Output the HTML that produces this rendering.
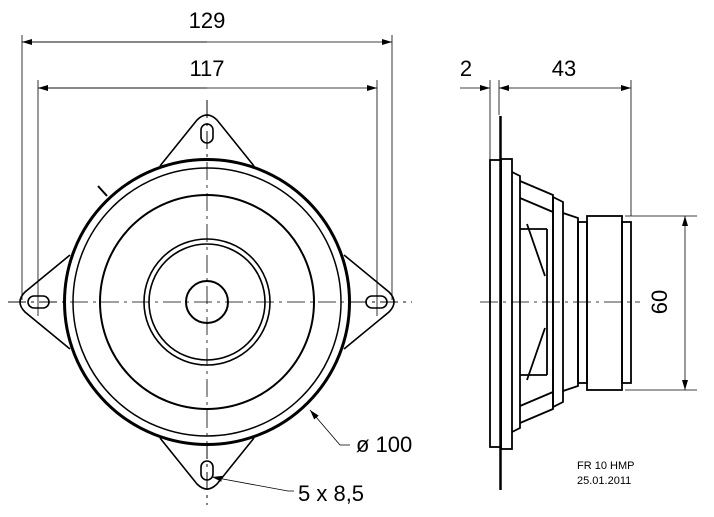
<!DOCTYPE html>
<html><head><style>
html,body{margin:0;padding:0;background:#fff;}
svg{display:block;}
text{font-family:"Liberation Sans",sans-serif;fill:#000;}
</style></head><body>
<svg width="714" height="517" viewBox="0 0 714 517" xmlns="http://www.w3.org/2000/svg">
<defs>
<marker id="a" markerWidth="10" markerHeight="6" refX="10" refY="3" orient="auto" markerUnits="userSpaceOnUse"><path d="M0,0 L10,3 L0,6 z" fill="#000"/></marker>
</defs>
<g fill="none" stroke="#000">
<!-- dimension 129 / 117 -->
<line x1="22" y1="35" x2="22" y2="300" stroke-width="0.8"/>
<line x1="392" y1="35" x2="392" y2="300" stroke-width="0.8"/>
<line x1="38" y1="80" x2="38" y2="316" stroke-width="0.8"/>
<line x1="377" y1="80" x2="377" y2="316" stroke-width="0.8"/>
<line x1="22" y1="42" x2="392" y2="42" stroke-width="0.8" marker-end="url(#a)" marker-start="url(#a)" style="marker-start:none"/>
<line x1="207" y1="42" x2="22" y2="42" stroke-width="0.8" marker-end="url(#a)"/>
<line x1="38" y1="88" x2="377" y2="88" stroke-width="0.8" marker-end="url(#a)"/>
<line x1="207" y1="88" x2="38" y2="88" stroke-width="0.8" marker-end="url(#a)"/>
<!-- centerlines -->
<line x1="8" y1="302" x2="412" y2="302" stroke-width="0.8" stroke-dasharray="18,5,3,5"/>
<line x1="207" y1="100" x2="207" y2="505" stroke-width="0.8" stroke-dasharray="18,5,3,5"/>
<!-- tabs -->
<g stroke-width="1.6">
<path d="M160,166 L197,120 Q207,110 217,120 L254,166"/>
<path d="M160,438 L197,484 Q207,494 217,484 L254,438"/>
<path d="M70,255 L25,292 Q15,302 25,312 L70,349"/>
<path d="M344,255 L389,292 Q399,302 389,312 L344,349"/>
<rect x="201" y="124" width="12" height="19" rx="6"/>
<rect x="201" y="461" width="12" height="19" rx="6"/>
<rect x="28" y="296" width="21" height="12" rx="6"/>
<rect x="366" y="296" width="21" height="12" rx="6"/>
</g>
<!-- circles -->
<circle cx="207" cy="302" r="142.5" stroke-width="3" fill="#fff"/>
<circle cx="207" cy="302" r="134" stroke-width="1.5"/>
<circle cx="207" cy="302" r="107" stroke-width="2"/>
<circle cx="207" cy="302" r="63" stroke-width="1.6"/>
<circle cx="207" cy="302" r="58" stroke-width="1.6"/>
<circle cx="207" cy="302" r="21" stroke-width="2"/>
<line x1="8" y1="302" x2="412" y2="302" stroke-width="0.8" stroke-dasharray="18,5,3,5"/>
<line x1="207" y1="100" x2="207" y2="505" stroke-width="0.8" stroke-dasharray="18,5,3,5"/>
<line x1="98" y1="186" x2="107" y2="196" stroke-width="2"/>
<!-- leaders -->
<polyline points="350,445 340,445 310,410" stroke-width="0.8" marker-end="url(#a)"/>
<polyline points="294,491 288,491 212,477" stroke-width="0.8" marker-end="url(#a)"/>
<!-- side view dims -->
<line x1="490" y1="80" x2="490" y2="160" stroke-width="0.8"/>
<line x1="499" y1="80" x2="499" y2="115" stroke-width="0.8"/>
<line x1="631" y1="80" x2="631" y2="216" stroke-width="0.8"/>
<line x1="460" y1="88" x2="490" y2="88" stroke-width="0.8" marker-end="url(#a)"/>
<line x1="565" y1="88" x2="499" y2="88" stroke-width="0.8" marker-end="url(#a)"/>
<line x1="565" y1="88" x2="631" y2="88" stroke-width="0.8" marker-end="url(#a)"/>
<line x1="625" y1="216" x2="697" y2="216" stroke-width="0.8"/>
<line x1="625" y1="390" x2="697" y2="390" stroke-width="0.8"/>
<line x1="685" y1="302" x2="685" y2="216" stroke-width="0.8" marker-end="url(#a)"/>
<line x1="685" y1="302" x2="685" y2="390" stroke-width="0.8" marker-end="url(#a)"/>
<!-- side view body -->
<g stroke-width="1.8">
<line x1="500.5" y1="116" x2="500.5" y2="490" stroke-width="2.5"/>
<rect x="490" y="160" width="11" height="287"/>
<rect x="501" y="159" width="11" height="290"/>
<path d="M512,172 L520,176 L520,428 L512,432"/>
<path d="M520,181 L553,195 L553,409 L520,423"/>
<path d="M520,198 L553,212 M520,406 L553,392"/>
<path d="M553,197 L563,202 L563,402 L553,407 Z"/>
<path d="M563,213 L578,218 L578,386 L563,391"/>
<rect x="578" y="222" width="9" height="161"/>
<rect x="587" y="216" width="35" height="174"/>
<rect x="622" y="222" width="9" height="161"/>
<path d="M527,224 L545,276 M527,380 L545,328 M520,229 L547,229 M520,375 L547,375"/>
<line x1="547" y1="229" x2="547" y2="375"/>
</g>
<line x1="480" y1="302" x2="640" y2="302" stroke-width="0.8" stroke-dasharray="18,5,3,5"/>
</g>
<text x="207" y="28" font-size="22" text-anchor="middle">129</text>
<text x="207" y="76" font-size="22" text-anchor="middle">117</text>
<text x="466" y="76" font-size="22" text-anchor="middle">2</text>
<text x="564" y="76" font-size="22" text-anchor="middle">43</text>
<text x="0" y="0" font-size="22" text-anchor="middle" transform="translate(667,302) rotate(-90)">60</text>
<text x="356" y="452" font-size="22">ø 100</text>
<text x="298" y="501" font-size="22">5 x 8,5</text>
<text x="577" y="469" font-size="11">FR 10 HMP</text>
<text x="577" y="484" font-size="11">25.01.2011</text>
</svg>
</body></html>
